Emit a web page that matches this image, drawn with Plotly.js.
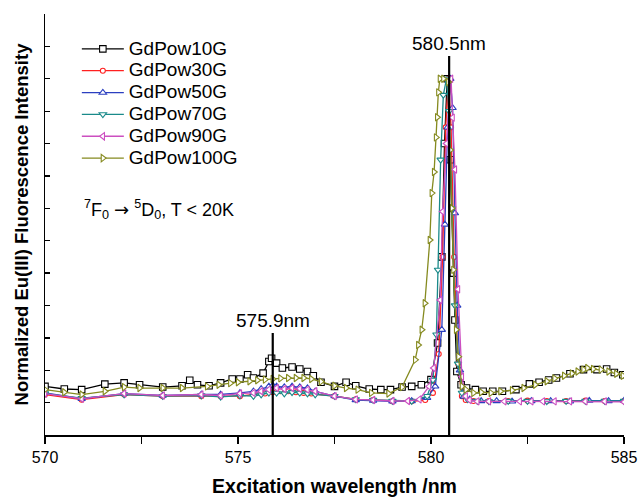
<!DOCTYPE html>
<html><head><meta charset="utf-8">
<script src="https://cdn.plot.ly/plotly-3.0.1.min.js"></script>
<style>html,body{margin:0;padding:0;background:#fff}#chart{width:638px;height:498px}</style>
</head><body><div id="chart"></div>
<script>
const seriesNames = ["GdPow10G","GdPow30G","GdPow50G","GdPow70G","GdPow90G","GdPow100G"];

const x10 = [570.0,570.5,570.95,571.55,572.05,572.45,573.05,573.55,573.75,573.95,574.25,574.55,574.85,575.05,575.25,575.4,575.65,575.8,575.87,576.0,576.15,576.4,576.6,576.8,576.95,577.15,577.5,577.8,578.05,578.4,578.7,578.95,579.25,579.5,579.75,580.0,580.17,580.28,580.35,580.42,580.5,580.58,580.62,580.67,580.78,580.92,581.15,581.35,581.6,581.85,582.2,582.55,582.8,583.05,583.25,583.6,583.95,584.3,584.55,584.75,584.97];
const y10 = [0.050,0.042,0.040,0.057,0.061,0.055,0.048,0.052,0.069,0.055,0.052,0.061,0.073,0.073,0.086,0.076,0.091,0.127,0.137,0.122,0.107,0.110,0.104,0.096,0.083,0.063,0.050,0.063,0.052,0.042,0.040,0.040,0.048,0.050,0.055,0.071,0.184,0.45,0.80,1.0,0.75,0.40,0.255,0.096,0.055,0.045,0.040,0.035,0.035,0.035,0.040,0.058,0.063,0.070,0.076,0.089,0.102,0.102,0.104,0.093,0.086];

const x30 = [570.0,570.95,572.05,573.05,574.05,574.55,575.05,575.4,575.7,575.9,576.1,576.3,576.5,576.7,576.9,577.5,578.05,578.5,579.0,579.5,579.85,580.05,580.2,580.3,580.38,580.45,580.52,580.6,580.7,580.8,580.9,581.1,581.5,582.0,582.5,583.0,583.5,584.0,584.5,585.0];
const y30 = [0.025,0.009,0.025,0.020,0.020,0.020,0.020,0.025,0.028,0.032,0.035,0.035,0.032,0.030,0.028,0.020,0.010,0.008,0.004,0.004,0.008,0.030,0.15,0.45,0.85,1.0,0.85,0.45,0.12,0.02,0.008,0.005,0.005,0.005,0.006,0.005,0.005,0.006,0.005,0.005];

const x50 = [570.0,570.95,572.05,573.05,574.05,574.55,575.05,575.4,575.6,575.8,575.9,576.0,576.2,576.4,576.6,576.8,577.0,577.5,578.05,578.5,579.0,579.5,579.9,580.11,580.28,580.36,580.43,580.5,580.56,580.62,580.68,580.75,580.85,581.0,581.3,581.7,582.1,582.6,583.1,583.6,584.1,584.6,585.0];
const y50 = [0.030,0.012,0.028,0.022,0.025,0.025,0.030,0.035,0.042,0.050,0.053,0.050,0.048,0.050,0.048,0.045,0.035,0.020,0.008,0.006,0.004,0.005,0.015,0.050,0.225,0.55,0.85,1.0,0.91,0.585,0.30,0.10,0.019,0.010,0.005,0.005,0.004,0.005,0.005,0.004,0.006,0.005,0.006];

const x70 = [570.0,570.95,572.05,573.05,574.05,574.55,575.05,575.4,575.6,575.8,576.0,576.2,576.4,576.6,576.8,577.0,577.5,578.05,578.5,579.0,579.5,579.9,580.05,580.14,580.18,580.25,580.32,580.4,580.47,580.55,580.62,580.7,580.8,580.95,581.2,581.5,582.0,582.5,583.0,583.5,584.0,584.5,585.0];
const y70 = [0.028,0.014,0.025,0.020,0.022,0.018,0.022,0.020,0.025,0.030,0.030,0.028,0.032,0.030,0.028,0.025,0.020,0.010,0.008,0.005,0.005,0.020,0.070,0.21,0.41,0.75,0.95,1.0,0.90,0.60,0.30,0.12,0.030,0.010,0.005,0.004,0.005,0.005,0.004,0.005,0.005,0.005,0.005];

const x90 = [570.0,570.95,572.05,573.05,574.05,574.55,575.05,575.4,575.6,575.8,576.0,576.2,576.4,576.6,576.8,577.0,577.5,578.05,578.5,579.0,579.4,579.7,579.95,580.07,580.24,580.3,580.4,580.52,580.56,580.62,580.7,580.8,580.9,581.0,581.2,581.5,581.9,582.3,582.6,582.9,583.2,583.6,584.0,584.5,585.0];
const y90 = [0.028,0.012,0.028,0.022,0.025,0.022,0.028,0.030,0.035,0.040,0.045,0.042,0.045,0.043,0.040,0.035,0.020,0.010,0.008,0.005,0.005,0.010,0.050,0.107,0.317,0.59,0.80,1.0,0.88,0.72,0.35,0.08,0.020,0.008,0.004,0.004,0.004,0.004,0.004,0.004,0.004,0.004,0.004,0.004,0.002];

const x100 = [570.0,570.5,570.95,571.55,572.05,572.45,573.05,573.55,574.2,574.5,574.8,575.0,575.3,575.5,575.7,575.9,576.1,576.3,576.5,576.7,576.9,577.15,577.5,577.8,578.1,578.45,578.9,579.25,579.59,579.67,579.76,579.84,579.97,580.02,580.08,580.13,580.16,580.19,580.23,580.32,580.45,580.5,580.54,580.58,580.65,580.71,580.8,580.9,581.1,581.3,581.55,581.8,582.1,582.4,582.7,583.0,583.2,583.45,583.65,583.8,583.95,584.05,584.2,584.4,584.6,584.8,584.97];
const y100 = [0.040,0.032,0.025,0.035,0.048,0.045,0.045,0.045,0.050,0.055,0.060,0.063,0.066,0.069,0.071,0.073,0.075,0.076,0.076,0.076,0.073,0.065,0.052,0.045,0.040,0.030,0.028,0.048,0.132,0.178,0.225,0.307,0.502,0.647,0.712,0.819,0.881,0.958,1.0,1.0,0.99,0.78,0.60,0.41,0.225,0.142,0.050,0.040,0.030,0.032,0.030,0.035,0.038,0.045,0.055,0.066,0.075,0.083,0.090,0.096,0.102,0.107,0.104,0.102,0.096,0.089,0.083];

const markX = [575.9, 580.47];
const markTop = [0.215, 1.07];
const markLabels = ["575.9nm", "580.5nm"];
const xTickVals = [570, 575, 580, 585];
const xTickText = ["570", "575", "580", "585"];

const xs = [x10, x30, x50, x70, x90, x100];
const ys = [y10, y30, y50, y70, y90, y100];
const colors = ["#000000", "#ff2020", "#2b3fc0", "#1a8a8a", "#cc4fc0", "#858a1f"];
const symbols = ["square", "circle", "triangle-up", "triangle-down", "triangle-left", "triangle-right"];

const traces = seriesNames.map((n, i) => ({
  type: "scatter", mode: "lines+markers",
  name: '<span style="font-size:19px">' + n + '</span>',
  x: xs[i], y: ys[i],
  line: {color: colors[i], width: 1.3},
  marker: {symbol: symbols[i], size: i === 1 ? 5 : 6.5, color: "#ffffff", line: {color: colors[i], width: 1.1}}
}));
markX.forEach((mx, i) => {
  traces.push({type: "scatter", mode: "lines", x: [mx, mx], y: [-0.1, markTop[i]],
    line: {color: "#000", width: 2.2}, showlegend: false, hoverinfo: "skip"});
});

const font = "Liberation Sans, Arial, sans-serif";
const annotations = markX.map((mx, i) => ({
  x: mx, y: markTop[i], xref: "x", yref: "y", text: markLabels[i], showarrow: false,
  yanchor: "bottom", yshift: 0, font: {family: font, size: 19, color: "#000"}
}));
annotations.push({
  x: 0.064, y: 0.535, xref: "paper", yref: "paper", xanchor: "left", yanchor: "middle", showarrow: false,
  text: "<sup>7</sup>F<sub>0</sub> <span style=\"font-family:'DejaVu Sans'\">\u2192</span> <sup>5</sup>D<sub>0</sub>, T &lt; 20K",
  font: {family: font, size: 18, color: "#000"}
});

const layout = {
  width: 638, height: 498,
  margin: {l: 45, r: 14, t: 14, b: 63},
  paper_bgcolor: "#fff", plot_bgcolor: "#fff",
  font: {family: font, size: 16, color: "#000"},
  showlegend: true,
  legend: {x: 0.055, y: 0.955, xanchor: "left", yanchor: "top", bgcolor: "rgba(0,0,0,0)",
    font: {family: font, size: 14.5, color: "#000"}, tracegroupgap: 0, itemwidth: 42},
  xaxis: {range: [570, 585], showgrid: false, zeroline: false, showline: true, linecolor: "#000", linewidth: 1.5,
    ticks: "outside", ticklen: 7, tickwidth: 1.3, tickcolor: "#000", tickmode: "array", tickvals: xTickVals, ticktext: xTickText,
    minor: {dtick: 2.5, tick0: 570, ticks: "outside", ticklen: 7, tickwidth: 1.3, tickcolor: "#000"},
    tickfont: {family: font, size: 16},
    title: {text: "<b>Excitation wavelength /nm</b>", font: {family: font, size: 19.5}, standoff: 14}},
  yaxis: {range: [-0.1, 1.2], showgrid: false, zeroline: false, showline: true, linecolor: "#000", linewidth: 1.5,
    ticks: "inside", ticklen: 5, tickwidth: 1.3, tickcolor: "#000", dtick: 0.1, tick0: 0, showticklabels: false,
    title: {text: "<b>Normalized Eu(III) Fluorescence Intensity</b>", font: {family: font, size: 18.5}, standoff: 10}},
  annotations: annotations
};
Plotly.newPlot("chart", traces, layout, {displayModeBar: false, staticPlot: true});
</script></body></html>
